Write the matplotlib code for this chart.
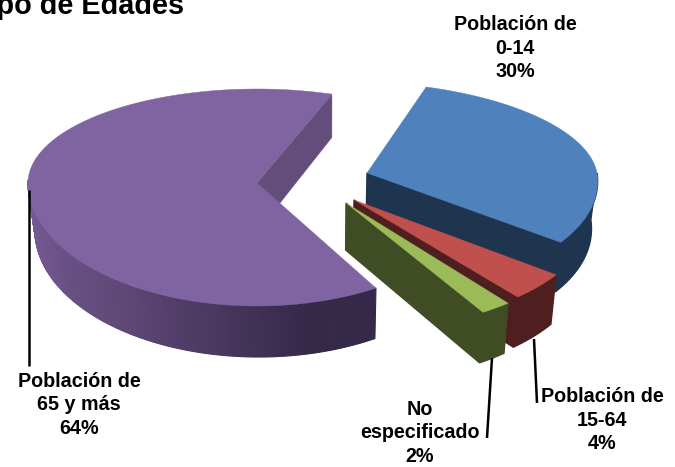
import numpy as np
import matplotlib
matplotlib.use('Agg')
import matplotlib.pyplot as plt

plt.rcParams['font.family'] = ['Liberation Sans', 'DejaVu Sans']

# datos
categorias = ['Población de\n0-14', 'Población de\n15-64', 'No\nespecificado', 'Población de\n65 y más']
valores = [30, 4, 2, 64]
titulo = 'Población por Grupo de Edades'

colores = ['#4f81bd', '#c0504d', '#9bbb59', '#8064a2']
paredes = ['#1f344f', '#4f1f1f', '#3f4c24', '#634d7b']

# geometria de cada trozo en pixeles: cx, cy, a, b arriba, b abajo, sesgo
geo = [(367, 173, 230, 91, 115, 17),
       (354, 200, 239, 94, 124, 19),
       (346, 203, 249, 94, 128, 9),
       (257, 183, 229, 94, 123, 0)]
inicio = 70.9
x_fuga = 330

def punto(i, t, abajo=False):
    cx, cy, a, bu, bd, sk = geo[i]
    s = np.sin(np.radians(t))
    c = np.cos(np.radians(t))
    x = cx + a*c - sk*s
    y = cy - (bu if s > 0 else bd)*s
    if abajo:
        x = x_fuga + 0.977*(x-x_fuga)
        y = y + 47 - 4*s
    return x, y

def arco(i, t1, t2, abajo=False, n=80):
    return [punto(i, t, abajo) for t in np.linspace(t1, t2, n)]

def centro(i, abajo=False):
    cx, cy = geo[i][:2]
    return (x_fuga + 0.977*(cx-x_fuga), cy+47) if abajo else (cx, cy)

fig = plt.figure(figsize=(6.75, 4.67), dpi=100)
ax = fig.add_axes([0, 0, 1, 1])
ax.set_xlim(0, 675)
ax.set_ylim(467, 0)
ax.axis('off')

# angulos desde los valores, en sentido horario
fin = inicio - np.cumsum(valores)*3.6
ini = np.r_[inicio, fin[:-1]]

def poligono(pts, color, z, lw=0.3):
    pts = np.array(pts)
    ax.fill(pts[:, 0], pts[:, 1], color=color, lw=lw, zorder=z)

### azul, rojo, verde ###
for i in range(3):
    z = 1 + i*3
    t1, t2 = ini[i], fin[i]
    # corte frontal
    poligono([centro(i), punto(i, t2), punto(i, t2, True), centro(i, True)], paredes[i], z, 1)
    # pared exterior
    hasta = min(t1, 0) if i == 0 else t1
    poligono(arco(i, t2, hasta) + arco(i, hasta, t2, True), paredes[i], z, 1)
    poligono([centro(i)] + arco(i, t1, t2), colores[i], z+1)

### morado ###
i = 3
t1, t2 = ini[i], fin[i]
poligono([centro(i), punto(i, t2), punto(i, t2, True), centro(i, True)], paredes[i], 20)
# pared con degradado, de izquierda a derecha
izq = np.array(matplotlib.colors.to_rgb('#7c5f9c'))
med = np.array(matplotlib.colors.to_rgb('#5f4876'))
der = np.array(matplotlib.colors.to_rgb('#35294a'))
ts = np.linspace(-182, t1, 200)
for k in range(len(ts)-1):
    f = k/(len(ts)-2)
    col = [np.interp(f, [0, 0.45, 0.85, 1], [izq[c], med[c], der[c], der[c]]) for c in range(3)]
    poligono(arco(i, ts[k], ts[k+1], n=2) + arco(i, ts[k+1], ts[k], True, n=2), col, 21, 0.8)
poligono([centro(i)] + arco(i, t1, t2, n=300), colores[i], 22)

### lineas guia ###
guias = [([29, 29], [190, 366]),
         ([534, 537], [339, 403]),
         ([492, 487], [358, 438])]
for gx, gy in guias:
    ax.plot(gx, gy, color='k', lw=1.8, solid_capstyle='butt', zorder=30)

### etiquetas ###
pos = [(515, 48), (602, 420), (420, 433), (79, 405)]
for n in range(4):
    ax.text(pos[n][0], pos[n][1], categorias[n]+'\n'+str(valores[n])+'%', ha='center', va='center',
            multialignment='center', fontsize=14.2, fontweight='bold', linespacing=1.33, zorder=31)

ax.text(184, 14, titulo, ha='right', va='baseline', fontsize=20.8, fontweight='bold', zorder=31)

fig.savefig('out.png', dpi=100)
